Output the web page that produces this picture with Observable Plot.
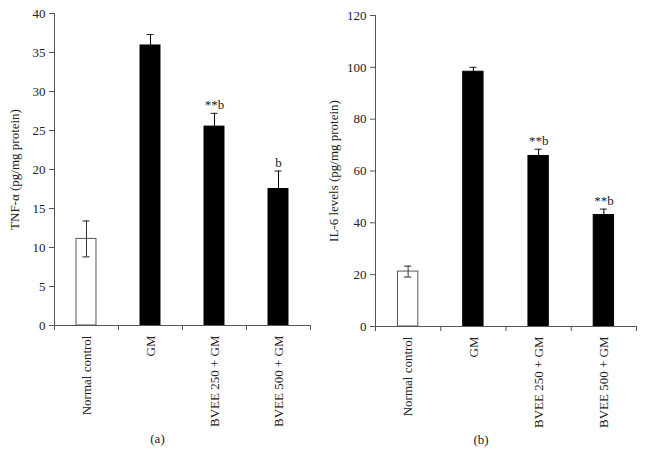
<!DOCTYPE html>
<html>
<head>
<meta charset="utf-8">
<script src="https://cdn.jsdelivr.net/npm/d3@7"></script>
<script src="https://cdn.jsdelivr.net/npm/@observablehq/plot@0.6"></script>
<style>
  html, body { margin: 0; padding: 0; background: #fff; }
  #wrap { display: flex; flex-direction: row; width: 645px; height: 456px; }
  #wrap svg text { font-family: "Liberation Serif", "Times New Roman", serif; font-size: 13px; }
</style>
</head>
<body>
<div id="wrap"></div>
<script>
const categories = ["Normal control", "GM", "BVEE 250 + GM", "BVEE 500 + GM"];
const tnfValues = [11.1, 35.9, 25.5, 17.5];
const tnfErrors = [2.3, 1.4, 1.7, 2.3];
const tnfMarks  = ["", "", "**b", "b"];
const il6Values = [21.2, 98.3, 65.8, 43.0];
const il6Errors = [2.1, 1.7, 2.6, 2.3];
const il6Marks  = ["", "", "**b", "**b"];
const tnfTicks = [0, 5, 10, 15, 20, 25, 30, 35, 40];
const il6Ticks = [0, 20, 40, 60, 80, 100, 120];
const fills = ["white", "black", "black", "black"];

const BAR_HALF = 0.156;  // half bar width in band units
const CAP_HALF = 0.055;

function panel({values, errors, marks, ticks, yMax, yLabel, panelLabel, width, marginLeft, marginRight, marginTop, marginBottom, labelOffset}) {
  const data = categories.map((c, i) => ({cat: c, i, v: values[i], e: errors[i], m: marks[i], f: fills[i]}));
  return Plot.plot({
    width, height: 456,
    marginLeft, marginRight, marginTop, marginBottom,
    style: {fontFamily: "'Liberation Serif', serif", fontSize: "13px", color: "#222", background: "white"},
    x: {type: "linear", domain: [0, categories.length], axis: null},
    y: {domain: [0, yMax], axis: null},
    marks: [
      Plot.rectY(data, {x1: d => d.i + 0.5 - BAR_HALF, x2: d => d.i + 0.5 + BAR_HALF, y1: 0, y2: "v", fill: "f", stroke: d => d.f === "white" ? "#555" : "black", strokeWidth: 1}),
      Plot.ruleX(data, {x: d => d.i + 0.5, y1: d => d.v - d.e, y2: d => d.v + d.e, stroke: d => d.f === "white" ? "#333" : "black", strokeWidth: 1}),
      Plot.ruleY(data, {y: d => d.v + d.e, x1: d => d.i + 0.5 - CAP_HALF, x2: d => d.i + 0.5 + CAP_HALF, stroke: "#222", strokeWidth: 1}),
      Plot.ruleY(data.filter(d => d.f === "white"), {y: d => d.v - d.e, x1: d => d.i + 0.5 - CAP_HALF, x2: d => d.i + 0.5 + CAP_HALF, stroke: "#222", strokeWidth: 1}),
      Plot.text(data.filter(d => d.m), {x: d => d.i + 0.5, y: d => d.v + d.e, text: "m", dy: -4, lineAnchor: "bottom", fill: "#222", letterSpacing: "1.5px"}),
      Plot.ruleX([0], {y1: 0, y2: yMax, stroke: "#555"}),
      Plot.ruleY([0], {x1: 0, x2: categories.length, stroke: "#555"}),
      Plot.axisY({ticks, tickSize: 5, tickPadding: 4, label: yLabel, labelAnchor: "center", labelArrow: "none", labelOffset, stroke: "#555", fill: "#222"}),
      Plot.axisX({ticks: d3.range(categories.length + 1), tickSize: 5, tickFormat: () => "", label: null, stroke: "#555"}),
      Plot.text(data, {x: d => d.i + 0.5, y: 0, text: "cat", rotate: -90, textAnchor: "end", lineAnchor: "middle", dy: 10, fill: "#222"}),
      Plot.text([panelLabel], {frameAnchor: "bottom", text: d => d, dy: 117, dx: -25, fill: "#222"})
    ]
  });
}

const wrap = document.getElementById("wrap");
wrap.appendChild(panel({values: tnfValues, errors: tnfErrors, marks: tnfMarks, ticks: tnfTicks, yMax: 40,
  yLabel: "TNF-α (pg/mg protein)", panelLabel: "(a)", width: 320, marginLeft: 54, marginRight: 10, marginTop: 13, marginBottom: 131, labelOffset: 45}));
wrap.appendChild(panel({values: il6Values, errors: il6Errors, marks: il6Marks, ticks: il6Ticks, yMax: 120,
  yLabel: "IL-6 levels (pg/mg protein)", panelLabel: "(b)", width: 325, marginLeft: 55, marginRight: 9, marginTop: 15, marginBottom: 130, labelOffset: 47}));
</script>
</body>
</html>
